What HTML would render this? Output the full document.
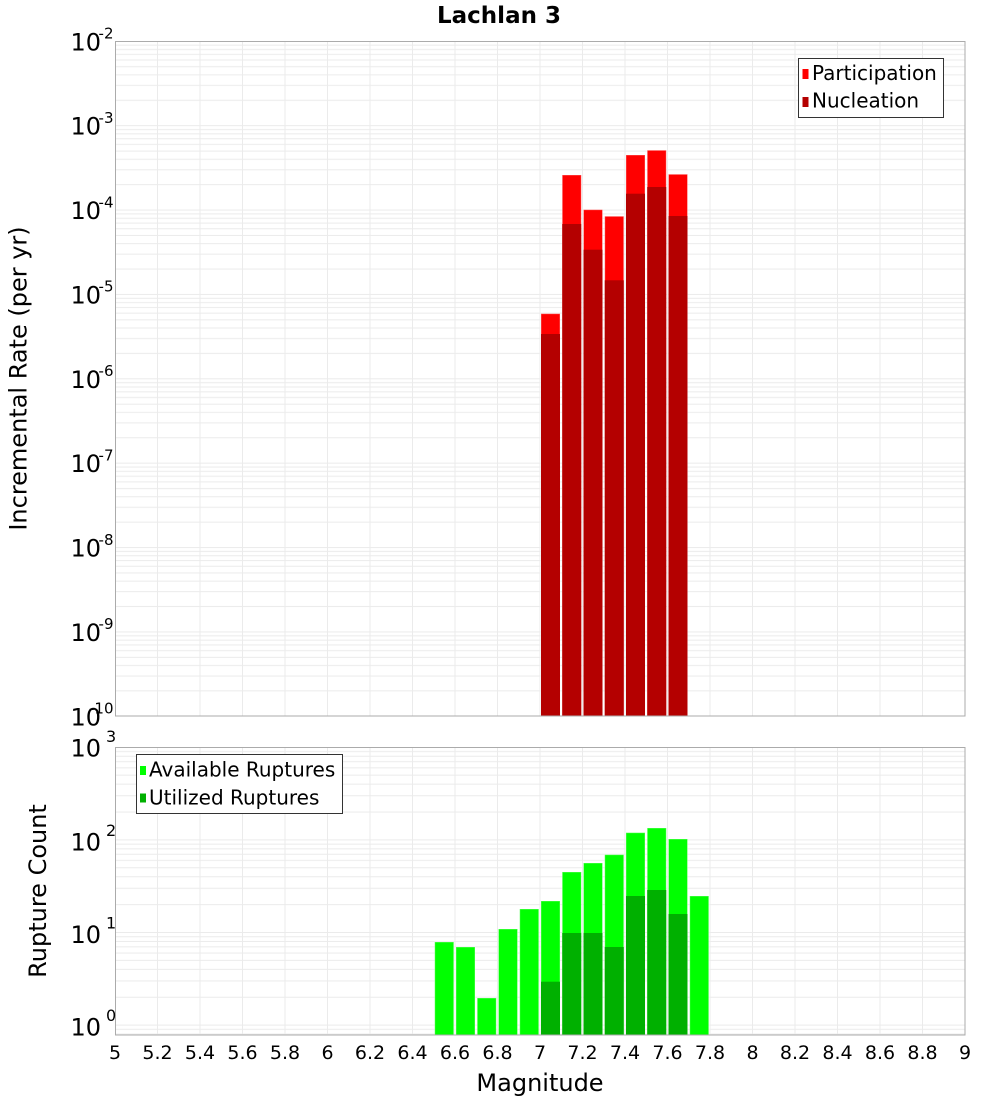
<!DOCTYPE html>
<html>
<head>
<meta charset="utf-8">
<style>
html,body{margin:0;padding:0;background:#fff;}
svg{display:block;}
text{font-family:"DejaVu Sans","Liberation Sans",sans-serif;fill:#000;}
</style>
</head>
<body>
<svg width="1000" height="1100" viewBox="0 0 1000 1100" xmlns="http://www.w3.org/2000/svg">
<defs>
  <pattern id="gtop" patternUnits="userSpaceOnUse" x="0" y="41.3" width="1000" height="84.375">
    <rect x="0" y="-0.5" width="1000" height="1" fill="#ebebeb"/>
    <rect x="0" y="58.48" width="1000" height="1" fill="#ebebeb"/>
    <rect x="0" y="43.62" width="1000" height="1" fill="#ebebeb"/>
    <rect x="0" y="33.08" width="1000" height="1" fill="#ebebeb"/>
    <rect x="0" y="24.90" width="1000" height="1" fill="#ebebeb"/>
    <rect x="0" y="18.22" width="1000" height="1" fill="#ebebeb"/>
    <rect x="0" y="12.57" width="1000" height="1" fill="#ebebeb"/>
    <rect x="0" y="7.68" width="1000" height="1" fill="#ebebeb"/>
    <rect x="0" y="3.36" width="1000" height="1" fill="#ebebeb"/>
    <rect x="0" y="83.875" width="1000" height="1" fill="#ebebeb"/>
  </pattern>
  <pattern id="gbot" patternUnits="userSpaceOnUse" x="0" y="747.3" width="1000" height="92.6">
    <rect x="0" y="-0.5" width="1000" height="1" fill="#ebebeb"/>
    <rect x="0" y="64.22" width="1000" height="1" fill="#ebebeb"/>
    <rect x="0" y="47.92" width="1000" height="1" fill="#ebebeb"/>
    <rect x="0" y="36.35" width="1000" height="1" fill="#ebebeb"/>
    <rect x="0" y="27.38" width="1000" height="1" fill="#ebebeb"/>
    <rect x="0" y="20.04" width="1000" height="1" fill="#ebebeb"/>
    <rect x="0" y="13.84" width="1000" height="1" fill="#ebebeb"/>
    <rect x="0" y="8.47" width="1000" height="1" fill="#ebebeb"/>
    <rect x="0" y="3.74" width="1000" height="1" fill="#ebebeb"/>
    <rect x="0" y="92.1" width="1000" height="1" fill="#ebebeb"/>
  </pattern>
</defs>

<rect x="0" y="0" width="1000" height="1100" fill="#fff"/>

<!-- Title -->
<text x="499" y="23" font-size="23" font-weight="bold" text-anchor="middle">Lachlan 3</text>

<!-- ============ TOP PLOT ============ -->
<rect x="115" y="41" width="850" height="675" fill="url(#gtop)"/>
<g stroke="#ebebeb" stroke-width="1">
  <path d="M157.5 41V716M200 41V716M242.5 41V716M285 41V716M327.5 41V716M370 41V716M412.5 41V716M455 41V716M497.5 41V716M540 41V716M582.5 41V716M625 41V716M667.5 41V716M710 41V716M752.5 41V716M795 41V716M837.5 41V716M880 41V716M922.5 41V716"/>
</g>

<!-- Participation bars -->
<g fill="#ff0000" stroke="rgba(255,255,255,0.35)" stroke-width="1">
  <rect x="541" y="313.7" width="19" height="402.3"/>
  <rect x="562.25" y="175" width="19" height="541"/>
  <rect x="583.5" y="209.7" width="19" height="506.3"/>
  <rect x="604.75" y="216.3" width="19" height="499.7"/>
  <rect x="626" y="155" width="19" height="561"/>
  <rect x="647.25" y="150.3" width="19" height="565.7"/>
  <rect x="668.5" y="174.3" width="19" height="541.7"/>
</g>
<!-- Nucleation bars -->
<g fill="#b40000">
  <rect x="541" y="334" width="19" height="382"/>
  <rect x="562.25" y="224" width="19" height="492"/>
  <rect x="583.5" y="249.7" width="19" height="466.3"/>
  <rect x="604.75" y="280.3" width="19" height="435.7"/>
  <rect x="626" y="193.7" width="19" height="522.3"/>
  <rect x="647.25" y="187" width="19" height="529"/>
  <rect x="668.5" y="216" width="19" height="500"/>
</g>

<rect x="115.5" y="41.5" width="849.5" height="674.5" fill="none" stroke="#ababab" stroke-width="1"/>

<!-- Top legend -->
<rect x="798.5" y="58.5" width="145" height="59" fill="#fff" stroke="#333" stroke-width="1"/>
<rect x="802.5" y="69" width="6" height="10" fill="#ff0000"/>
<rect x="802.5" y="97" width="6" height="10" fill="#b40000"/>
<text x="812" y="80" font-size="20">Participation</text>
<text x="812" y="107.7" font-size="20">Nucleation</text>

<!-- Top y tick labels -->
<g font-size="24" text-anchor="end">
  <text x="101" y="50.3">10</text>
  <text x="101" y="134.7">10</text>
  <text x="101" y="219">10</text>
  <text x="101" y="303.4">10</text>
  <text x="101" y="387.8">10</text>
  <text x="101" y="472.2">10</text>
  <text x="101" y="556.5">10</text>
  <text x="101" y="640.9">10</text>
  <text x="101" y="725.3">10</text>
</g>
<g font-size="15" text-anchor="end">
  <text x="113.5" y="38.6">-2</text>
  <text x="113.5" y="123">-3</text>
  <text x="113.5" y="207.3">-4</text>
  <text x="113.5" y="291.7">-5</text>
  <text x="113.5" y="376.1">-6</text>
  <text x="113.5" y="460.5">-7</text>
  <text x="113.5" y="544.8">-8</text>
  <text x="113.5" y="629.2">-9</text>
  <text x="113.5" y="713.6">-10</text>
</g>

<text transform="translate(26.5,378.5) rotate(-90)" font-size="24" text-anchor="middle">Incremental Rate (per yr)</text>

<!-- ============ BOTTOM PLOT ============ -->
<rect x="115" y="747" width="850" height="288" fill="url(#gbot)"/>
<g stroke="#ebebeb" stroke-width="1">
  <path d="M157.5 747V1035M200 747V1035M242.5 747V1035M285 747V1035M327.5 747V1035M370 747V1035M412.5 747V1035M455 747V1035M497.5 747V1035M540 747V1035M582.5 747V1035M625 747V1035M667.5 747V1035M710 747V1035M752.5 747V1035M795 747V1035M837.5 747V1035M880 747V1035M922.5 747V1035"/>
</g>

<!-- Available ruptures -->
<g fill="#00ff00" stroke="rgba(255,255,255,0.35)" stroke-width="1">
  <rect x="434.75" y="942" width="19" height="93"/>
  <rect x="456" y="947" width="19" height="88"/>
  <rect x="477.25" y="998" width="19" height="37"/>
  <rect x="498.5" y="929" width="19" height="106"/>
  <rect x="519.75" y="909" width="19" height="126"/>
  <rect x="541" y="901" width="19" height="134"/>
  <rect x="562.25" y="872" width="19" height="163"/>
  <rect x="583.5" y="863" width="19" height="172"/>
  <rect x="604.75" y="854.7" width="19" height="180.3"/>
  <rect x="626" y="832.7" width="19" height="202.3"/>
  <rect x="647.25" y="828" width="19" height="207"/>
  <rect x="668.5" y="839" width="19" height="196"/>
  <rect x="689.75" y="896" width="19" height="139"/>
</g>
<!-- Utilized ruptures -->
<g fill="#00b000">
  <rect x="541" y="981.7" width="19" height="53.3"/>
  <rect x="562.25" y="933" width="19" height="102"/>
  <rect x="583.5" y="933" width="19" height="102"/>
  <rect x="604.75" y="947" width="19" height="88"/>
  <rect x="626" y="896" width="19" height="139"/>
  <rect x="647.25" y="890" width="19" height="145"/>
  <rect x="668.5" y="914" width="19" height="121"/>
</g>

<rect x="115.5" y="747.5" width="849.5" height="287.5" fill="none" stroke="#ababab" stroke-width="1"/>

<!-- Bottom legend -->
<rect x="136.5" y="754.5" width="206" height="59" fill="#fff" stroke="#333" stroke-width="1"/>
<rect x="140" y="766" width="6" height="9" fill="#00ff00"/>
<rect x="140" y="793.5" width="6" height="9" fill="#00b000"/>
<text x="149" y="776.7" font-size="20">Available Ruptures</text>
<text x="149" y="804.3" font-size="20">Utilized Ruptures</text>

<!-- Bottom y tick labels -->
<g font-size="24" text-anchor="end">
  <text x="101" y="756.7">10</text>
  <text x="101" y="850.3">10</text>
  <text x="101" y="943">10</text>
  <text x="101" y="1035.6">10</text>
</g>
<g font-size="16" text-anchor="start">
  <text x="106" y="742">3</text>
  <text x="106" y="835.8">2</text>
  <text x="106" y="928.5">1</text>
  <text x="106" y="1021.1">0</text>
</g>

<text transform="translate(46,891) rotate(-90)" font-size="24" text-anchor="middle">Rupture Count</text>

<!-- X tick labels -->
<g font-size="19" text-anchor="middle">
  <text x="115" y="1059">5</text>
  <text x="157.5" y="1059">5.2</text>
  <text x="200" y="1059">5.4</text>
  <text x="242.5" y="1059">5.6</text>
  <text x="285" y="1059">5.8</text>
  <text x="327.5" y="1059">6</text>
  <text x="370" y="1059">6.2</text>
  <text x="412.5" y="1059">6.4</text>
  <text x="455" y="1059">6.6</text>
  <text x="497.5" y="1059">6.8</text>
  <text x="540" y="1059">7</text>
  <text x="582.5" y="1059">7.2</text>
  <text x="625" y="1059">7.4</text>
  <text x="667.5" y="1059">7.6</text>
  <text x="710" y="1059">7.8</text>
  <text x="752.5" y="1059">8</text>
  <text x="795" y="1059">8.2</text>
  <text x="837.5" y="1059">8.4</text>
  <text x="880" y="1059">8.6</text>
  <text x="922.5" y="1059">8.8</text>
  <text x="965" y="1059">9</text>
</g>

<text x="540" y="1091" font-size="24" text-anchor="middle">Magnitude</text>
</svg>
</body>
</html>
